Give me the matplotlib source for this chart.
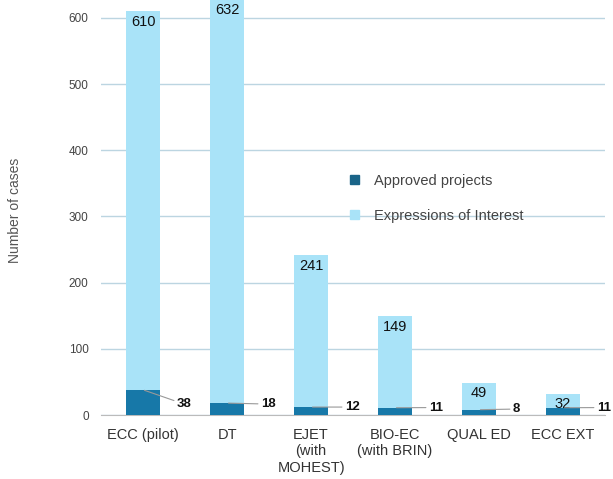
import matplotlib.pyplot as plt
from matplotlib.patches import Patch

plt.rcParams["font.family"] = ["Liberation Sans", "DejaVu Sans"]

# data
programmes = ["ECC (pilot)", "DT", "EJET\n(with\nMOHEST)", "BIO-EC\n(with BRIN)", "QUAL ED", "ECC EXT"]
interest = [610, 632, 241, 149, 49, 32]
approved = [38, 18, 12, 11, 8, 11]

light = "#a9e3f8"
dark = "#1778a8"

fig = plt.figure(figsize=(6.13, 4.79), dpi=100)
ax = fig.add_axes([0.165, 0.1336, 0.822, 0.8664])

x = range(len(programmes))
ax.bar(x, interest, width=0.4, color=light, zorder=2)
ax.bar(x, approved, width=0.4, color=dark, zorder=3)

ax.set_xlim(-0.5, len(programmes) - 0.5)
ax.set_ylim(0, 627)
ax.set_yticks(range(0, 700, 100))
ax.grid(axis="y", color="#bcd5e1", lw=1, zorder=0)
ax.set_axisbelow(True)
for s in ["left", "right", "top"]:
    ax.spines[s].set_visible(False)
ax.spines["bottom"].set_color("#bbbbbb")
ax.tick_params(axis="y", length=0, labelsize=8.5, labelcolor="#444444", pad=9)
ax.tick_params(axis="x", length=0, labelsize=10.5, labelcolor="#333333", pad=9)
ax.set_xticks(list(x))
ax.set_xticklabels(programmes, linespacing=1.25)

# labels for expressions of interest, inside top of bar
for i, v in enumerate(interest):
    ax.text(i, min(v, 627) - 5, str(v), ha="center", va="top", fontsize=10.5, color="#111111", zorder=4)

# labels for approved, with leader lines
for i, v in enumerate(approved):
    lab_y = min(v * 0.75 + 3, 16.5)
    ax.annotate(str(v), xy=(i, v), xytext=(i + 0.4, lab_y), ha="left", va="center",
                fontsize=9.5, fontweight="bold", color="#111111",
                arrowprops=dict(arrowstyle="-", color="#999999", lw=0.8, shrinkA=0, shrinkB=1),
                annotation_clip=False, zorder=5)

handles = [Patch(color="#1a6488"), Patch(color=light)]
fig.legend(handles, ["Approved projects", "Expressions of Interest"], loc="upper left",
           bbox_to_anchor=(0.55, 0.665), frameon=False, fontsize=10.5, labelcolor="#444444",
           handlelength=0.6, handleheight=0.6, labelspacing=1.45, handletextpad=1.0)

fig.text(0.025, 0.56, "Number of cases", rotation=90, ha="center", va="center", fontsize=10, color="#555555")

fig.savefig("out.png", dpi=100)
